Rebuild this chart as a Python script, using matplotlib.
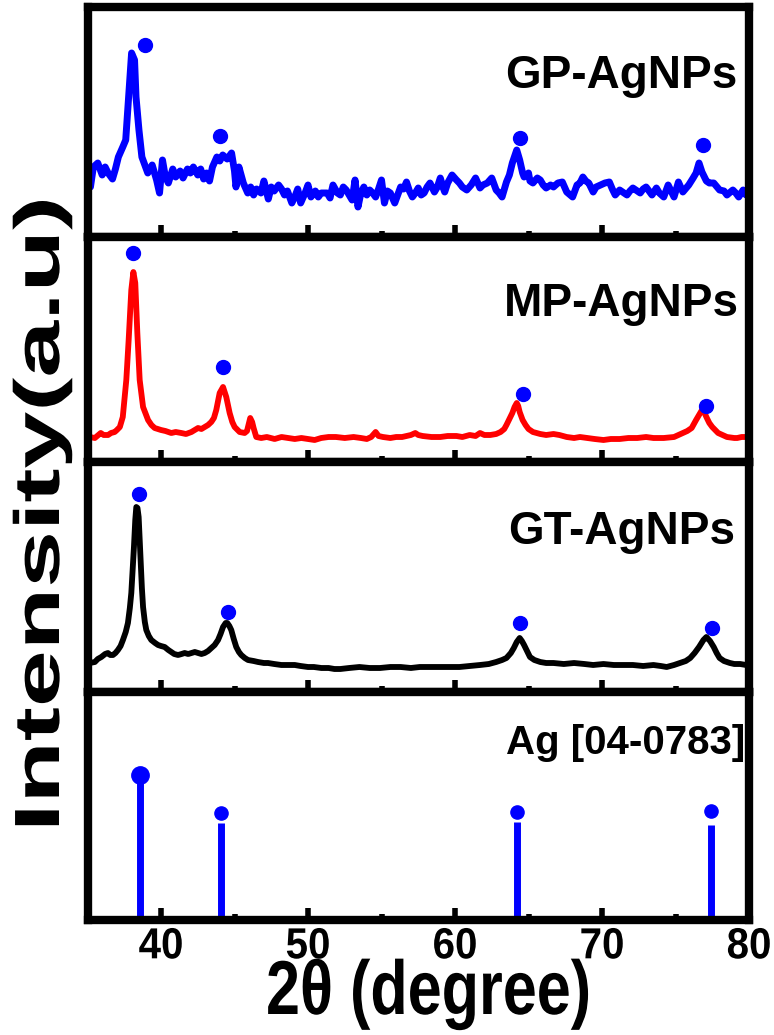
import matplotlib
matplotlib.use("Agg")
import matplotlib.pyplot as plt
from matplotlib.ticker import MultipleLocator
from matplotlib.patheffects import AbstractPathEffect
from matplotlib.transforms import Affine2D

plt.rcParams["font.family"] = ["Liberation Sans", "DejaVu Sans"]
plt.rcParams["font.weight"] = "bold"


class Stretch(AbstractPathEffect):
    """Scale glyphs along (sx) and across (sy) the baseline, like the tall narrow font of the original."""

    def __init__(self, sx=1.0, sy=1.0):
        super().__init__()
        self.sx, self.sy = sx, sy

    def draw_path(self, renderer, gc, tpath, affine, rgbFace=None):
        renderer.draw_path(gc, tpath, Affine2D().scale(self.sx, self.sy) + affine, rgbFace)


# GP-AgNPs (blue)
gp_x = [35.0, 35.2, 35.4, 35.7, 36.0, 36.2, 36.4, 36.7, 36.9, 37.1, 37.4, 37.6, 37.8, 38.0, 38.2,
        38.3, 38.5, 38.7, 38.9, 39.1, 39.4, 39.7, 39.9, 40.1, 40.3, 40.5, 40.8, 41.0, 41.3, 41.5,
        41.8, 42.0, 42.2, 42.5, 42.7, 42.9, 43.1, 43.3, 43.5, 43.8, 44.0, 44.2, 44.5, 44.8, 45.0,
        45.1, 45.3, 45.6, 45.9, 46.1, 46.3, 46.5, 46.8, 47.0, 47.3, 47.5, 47.7, 48.0, 48.2, 48.4,
        48.6, 48.9, 49.1, 49.3, 49.5, 49.8, 50.0, 50.2, 50.5, 50.7, 50.9, 51.3, 51.5, 51.7, 52.0,
        52.2, 52.4, 52.6, 52.8, 53.0, 53.2, 53.4, 53.6, 53.8, 54.0, 54.2, 54.4, 54.6, 54.8, 55.0,
        55.2, 55.4, 55.6, 55.9, 56.1, 56.3, 56.5, 56.7, 56.9, 57.1, 57.3, 57.5, 57.7, 57.9, 58.1,
        58.3, 58.5, 58.6, 58.8, 59.0, 59.2, 59.3, 59.5, 59.8, 60.1, 60.3, 60.5, 60.8, 61.1, 61.4,
        61.7, 61.9, 62.2, 62.5, 62.8, 63.0, 63.2, 63.5, 63.7, 63.9, 64.2, 64.4, 64.6, 64.7, 65.0,
        65.1, 65.3, 65.6, 65.8, 66.0, 66.2, 66.5, 66.7, 67.0, 67.3, 67.6, 68.0, 68.3, 68.5, 68.7,
        68.9, 69.1, 69.4, 69.6, 69.9, 70.2, 70.5, 70.7, 70.9, 71.2, 71.5, 71.7, 71.9, 72.1, 72.4,
        72.6, 72.8, 73.0, 73.2, 73.4, 73.7, 73.9, 74.2, 74.5, 74.7, 74.9, 75.2, 75.5, 75.9, 76.2,
        76.4, 76.6, 76.8, 77.1, 77.3, 77.6, 78.0, 78.3, 78.5, 78.9, 79.1, 79.3, 79.6, 79.8, 80.0]
gp_y = [56, 46, 66, 70, 58, 66, 60, 54, 64, 76, 86, 93, 136, 180, 173,
        136, 103, 76, 68, 60, 68, 53, 40, 73, 56, 50, 64, 56, 62, 55,
        64, 60, 66, 58, 64, 54, 60, 52, 66, 76, 72, 78, 74, 80, 62,
        46, 66, 50, 40, 46, 38, 44, 40, 52, 34, 46, 42, 48, 44, 38,
        42, 30, 36, 44, 30, 40, 48, 36, 42, 36, 40, 40, 35, 48, 40,
        38, 46, 43, 38, 33, 53, 26, 40, 46, 38, 43, 40, 36, 44, 53,
        30, 42, 40, 30, 38, 46, 44, 51, 42, 36, 40, 45, 38, 40, 46,
        50, 44, 41, 46, 55, 45, 41, 50, 58, 53, 50, 46, 43, 48, 55,
        45, 48, 50, 55, 43, 40, 36, 51, 58, 70, 83, 73, 60, 56, 60,
        52, 50, 55, 53, 48, 45, 48, 46, 50, 51, 41, 36, 48, 50, 56,
        52, 50, 41, 46, 48, 50, 51, 44, 38, 43, 40, 38, 42, 45, 42,
        40, 44, 46, 42, 38, 45, 40, 36, 48, 42, 36, 51, 41, 48, 55,
        60, 70, 61, 52, 50, 50, 43, 42, 38, 43, 40, 36, 43, 38, 40]

# MP-AgNPs (red)
mp_x = [35.0, 35.15, 35.5, 35.9, 36.1, 36.4, 36.6, 36.85, 37.0, 37.2, 37.4, 37.64, 37.8, 37.98,
        38.12, 38.25, 38.39, 38.55, 38.78, 39.12, 39.35, 39.57, 40.0, 40.3, 40.7, 41.0, 41.38,
        41.7, 42.07, 42.3, 42.52, 42.75, 42.97, 43.2, 43.42, 43.6, 43.76, 43.99, 44.22, 44.44,
        44.67, 44.85, 45.01, 45.35, 45.69, 45.85, 45.92, 46.07, 46.2, 46.3, 46.48, 46.82, 47.2,
        47.73, 48.2, 48.64, 49.1, 49.55, 50.0, 50.45, 50.9, 51.4, 51.9, 52.5, 53.1, 53.6, 54.0,
        54.3, 54.6, 54.8, 55.1, 55.6, 56.0, 56.4, 56.7, 57.0, 57.3, 57.5, 57.8, 58.4, 59.0, 59.5,
        60.1, 60.5, 61.0, 61.4, 61.7, 62.0, 62.4, 62.8, 63.1, 63.35, 63.5, 63.7, 63.9, 64.05,
        64.2, 64.3, 64.4, 64.6, 64.8, 65.0, 65.3, 65.8, 66.2, 66.7, 67.1, 67.6, 68.1, 68.5, 69.0,
        69.5, 70.1, 70.6, 71.2, 71.8, 72.4, 73.0, 73.5, 74.2, 74.9, 75.2, 75.5, 75.8, 76.1, 76.4,
        76.6, 76.8, 76.95, 77.1, 77.3, 77.5, 77.9, 78.2, 78.5, 79.0, 79.2, 79.5, 79.8, 80.0]
mp_y = [22, 21, 20, 25, 23, 23, 25, 26, 28, 31, 41, 78, 118, 168,
        186, 175, 125, 78, 51, 38, 33, 30, 28, 27, 25, 26, 25,
        24, 26, 28, 30, 29, 31, 33, 36, 40, 48, 65, 71, 61,
        45, 36, 31, 26, 25, 27, 31, 40, 36, 30, 21, 20, 21,
        19, 21, 20, 19, 20, 19, 18, 20, 21, 21, 20, 21, 20, 19,
        21, 26, 22, 21, 20, 21, 21, 22, 23, 25, 23, 22, 21, 21, 22,
        22, 21, 23, 22, 25, 23, 23, 24, 26, 29, 33, 39, 45, 51,
        55, 52, 46, 38, 33, 29, 26, 24, 23, 24, 23, 21, 20, 21, 20,
        19, 18, 19, 19, 20, 20, 21, 20, 20, 21, 23, 25, 27, 30, 38,
        43, 48, 46, 41, 35, 31, 25, 23, 21, 20, 20, 21, 21, 22]

# GT-AgNPs (black)
gt_x = [35.0, 35.15, 35.5, 35.7, 35.94, 36.2, 36.39, 36.55, 36.73, 36.9, 37.07, 37.25, 37.41,
        37.6, 37.75, 37.88, 37.98, 38.08, 38.16, 38.25, 38.32, 38.4, 38.48, 38.55, 38.62, 38.7,
        38.78, 38.9, 39.0, 39.17, 39.34, 39.6, 39.8, 40.0, 40.25, 40.5, 40.7, 40.9, 41.16, 41.4,
        41.61, 41.85, 42.07, 42.3, 42.52, 42.75, 42.97, 43.2, 43.42, 43.65, 43.88, 44.05, 44.22,
        44.4, 44.51, 44.65, 44.78, 44.95, 45.12, 45.3, 45.46, 45.7, 45.92, 46.3, 46.6, 47.0,
        47.28, 47.7, 48.19, 48.6, 49.1, 49.5, 50.0, 50.4, 50.91, 51.4, 51.8, 52.2, 52.8, 53.5,
        54.2, 54.9, 55.6, 56.3, 57.0, 57.6, 58.3, 59.0, 59.6, 60.3, 61.0, 61.7, 62.3, 62.8, 63.2,
        63.5, 63.8, 64.0, 64.2, 64.4, 64.55, 64.7, 64.9, 65.1, 65.4, 65.8, 66.2, 66.7, 67.4, 68.1,
        68.8, 69.4, 70.1, 70.8, 71.4, 72.1, 72.8, 73.5, 74.0, 74.4, 74.9, 75.3, 75.7, 76.0, 76.3,
        76.6, 76.9, 77.1, 77.35, 77.6, 77.8, 78.0, 78.3, 78.7, 79.0, 79.4, 79.8, 80.0]
gt_y = [24, 25, 26, 29, 31, 34, 35, 33, 33, 35, 38, 42, 48,
        56, 65, 80, 95, 120, 141, 168, 181, 180, 171, 148, 125, 100,
        81, 66, 58, 52, 48, 45, 43, 42, 41, 38, 36, 34, 33, 34,
        35, 34, 35, 36, 35, 34, 35, 37, 40, 43, 48, 54, 61,
        65, 65, 62, 58, 49, 41, 36, 33, 30, 28, 27, 26, 25,
        25, 24, 23, 23, 23, 22, 21, 21, 20, 20, 19, 19, 20, 21,
        20, 20, 21, 21, 20, 21, 21, 21, 21, 21, 22, 23, 24, 26, 28,
        30, 35, 40, 46, 50, 47, 43, 37, 31, 28, 26, 25, 25, 24, 25,
        24, 23, 24, 23, 23, 23, 22, 23, 22, 21, 23, 25, 27, 30, 35,
        41, 48, 51, 47, 41, 35, 30, 27, 25, 24, 24, 23, 23]

# peak markers per sample
gp_dot_x = [38.9, 44.0, 64.4, 76.9]
gp_dot_y = [188, 97, 95, 88]
mp_dot_x = [38.1, 44.2, 64.65, 77.1]
mp_dot_y = [205, 91, 64, 52]
gt_dot_x = [38.48, 44.56, 64.4, 77.5]
gt_dot_y = [194, 76, 65, 60]

# Ag reference card [04-0783]
ag_x = [38.6, 44.1, 64.2, 77.4]
ag_h = [142, 94, 95, 92]
ag_dot_y = [142, 104, 105, 106]

W, H = 774, 1035
fig = plt.figure(figsize=(W / 100, H / 100), dpi=100)

# panel edges in pixels from the top
edges = [7, 237, 462, 692, 920]
ylims = [(-4, 226), (-4, 221), (-4, 226), (-3, 225)]
left, right = 87.5, 749

axes = []
for i in range(4):
    top, bot = edges[i], edges[i + 1]
    ax = fig.add_axes([left / W, 1 - bot / H, (right - left) / W, (bot - top) / H])
    ax.set_xlim(35, 80)
    ax.set_ylim(*ylims[i])
    for s in ax.spines.values():
        s.set_linewidth(6)
    ax.set_yticks([])
    ax.xaxis.set_major_locator(MultipleLocator(10))
    ax.xaxis.set_minor_locator(MultipleLocator(5))
    ax.tick_params(axis="x", which="major", direction="in", length=9, width=4,
                   pad=6, labelsize=29, top=False)
    ax.tick_params(axis="x", which="minor", direction="in", length=4.5, width=4, top=False)
    if i < 3:
        ax.tick_params(axis="x", labelbottom=False)
    axes.append(ax)

ax_gp, ax_mp, ax_gt, ax_ag = axes
blue = "#0000ff"

ax_gp.plot(gp_x, gp_y, color=blue, lw=5, solid_joinstyle="round")
ax_gp.plot(gp_dot_x, gp_dot_y, "o", color=blue, ms=10)
ax_mp.plot(mp_x, mp_y, color="#ff0000", lw=4.2, solid_joinstyle="round")
ax_mp.plot(mp_dot_x, mp_dot_y, "o", color=blue, ms=10)
ax_gt.plot(gt_x, gt_y, color="black", lw=4.2, solid_joinstyle="round")
ax_gt.plot(gt_dot_x, gt_dot_y, "o", color=blue, ms=10)

ax_ag.vlines(ag_x, 0, ag_h, color=blue, lw=5)
ax_ag.plot(ag_x[:1], ag_dot_y[:1], "o", color=blue, ms=12.5)
ax_ag.plot(ag_x[1:], ag_dot_y[1:], "o", color=blue, ms=9.5)

for t in ax_ag.get_xticklabels():
    t.set_fontweight("bold")
    t.set_path_effects([Stretch(1.0, 1.08)])

# sample labels (right edge x, baseline y in pixels)
fig.text(737 / W, 1 - 88 / H, "GP-AgNPs", ha="right", va="baseline", fontsize=33, fontweight="bold")
fig.text(739 / W, 1 - 316 / H, "MP-AgNPs", ha="right", va="baseline", fontsize=33, fontweight="bold")
fig.text(735 / W, 1 - 544 / H, "GT-AgNPs", ha="right", va="baseline", fontsize=33, fontweight="bold")
fig.text(745 / W, 1 - 754 / H, "Ag [04-0783]", ha="right", va="baseline", fontsize=29, fontweight="bold")

# axis titles, stretched to the tall letter shapes of the original
fig.text(42 / W, 1 - 832 / H, "Intensity(a.u)", rotation=90, ha="center", va="bottom",
         fontsize=46, fontweight="bold", path_effects=[Stretch(1.6, 1.0)])
fig.text(266 / W, 1 - 1014 / H, "2θ (degree)", ha="left", va="baseline",
         fontsize=44, fontweight="bold", path_effects=[Stretch(1.0, 1.25)])

fig.savefig("out.png", dpi=100)
